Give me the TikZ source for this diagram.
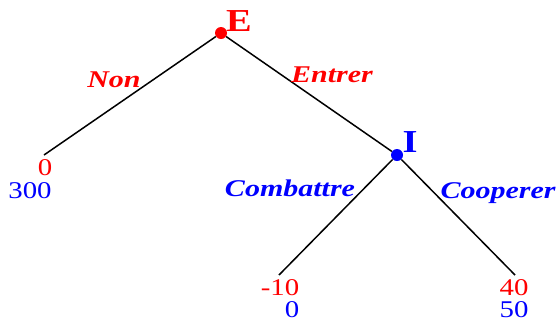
\documentclass[tikz,border=0pt]{standalone}
\usepackage{fontspec}
\setmainfont{Liberation Serif}
\usepackage{tikz}
\colorlet{colE}{red}
\colorlet{colI}{blue}
\tikzset{
  decision/.style={circle, fill, inner sep=0pt, minimum size=12pt},
  branche/.style={line width=1.5pt, black},
  action/.style={anchor=base, inner sep=0pt, xscale=1.25, font=\fontsize{24}{28}\selectfont\bfseries\itshape},
  joueur/.style={anchor=base, inner sep=0pt, xscale=1.2, font=\fontsize{32}{36}\selectfont\bfseries},
  gain/.style={anchor=base, inner sep=0pt, xscale=1.2, font=\fontsize{24}{28}\selectfont},
}

\begin{document}
\begin{tikzpicture}[x=1pt, y=-1pt]
    \useasboundingbox (0,0) rectangle (560,322);

    % noeuds de decision
    \node[decision, colE] (E) at (221,33) {};
    \node[decision, colI] (I) at (397,155) {};
    \node[joueur, colE] (labE) at (239,31) {E};
    \node[joueur, colI] (labI) at (410,152) {I};

    % feuilles
    \coordinate (fNon) at (44,155);
    \coordinate (fComb) at (279,275);
    \coordinate (fCoop) at (515,275);

    \draw[branche] (E) -- (fNon);
    \draw[branche] (E) -- (I);
    \draw[branche] (I) -- (fComb);
    \draw[branche] (I) -- (fCoop);

    % actions
    \node[action, colE] (aNon) at (114,87) {Non};
    \node[action, colE] (aEntrer) at (332,82) {Entrer};
    \node[action, colI] (aComb) at (290,196) {Combattre};
    \node[action, colI] (aCoop) at (498,198) {Cooperer};

    % gains
    \node[gain, colE] (gNonE) at (45,175) {0};
    \node[gain, colI] (gNonI) at (30,198) {300};
    \node[gain, colE] (gCombE) at (280,295) {-10};
    \node[gain, colI] (gCombI) at (292,317) {0};
    \node[gain, colE] (gCoopE) at (514,295) {40};
    \node[gain, colI] (gCoopI) at (514,317) {50};
\end{tikzpicture}
\end{document}
